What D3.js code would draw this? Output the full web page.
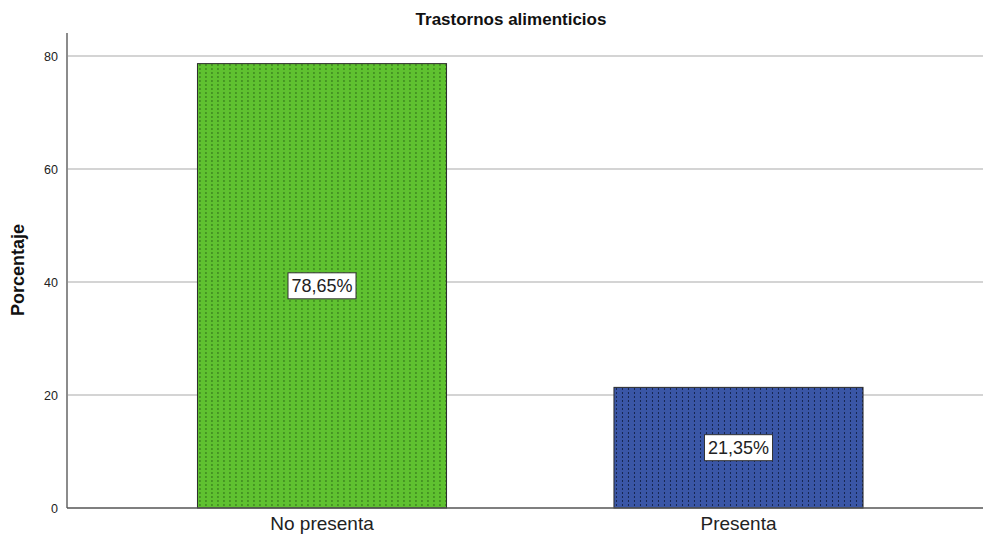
<!DOCTYPE html>
<html><head><meta charset="utf-8">
<script src="https://cdn.jsdelivr.net/npm/d3@7"></script>
<style>body{margin:0;background:#fff}svg{display:block;font-family:"Liberation Sans",Arial,sans-serif}</style>
</head><body><svg id="c" width="983" height="537"></svg>
<script>
const categories = ["No presenta", "Presenta"];
const values = [78.65, 21.35];
const labels = ["78,65%", "21,35%"];
const colors = ["#5fc130", "#3a56a6"];
const dotColors = ["#2f6d18", "#16254f"];
const yTicks = [0, 20, 40, 60, 80];

const svg = d3.select("#c");
const axisLeft = 67, axisRight = 983;
const y = d3.scaleLinear().domain([0, 80]).range([508, 56]);
const x = d3.scaleBand().domain(categories).range([113.75, 946.75]).paddingInner(0.402).paddingOuter(0.201);

const defs = svg.append("defs");
categories.forEach((c, i) => {
  const p = defs.append("pattern").attr("id", "pat" + i).attr("patternUnits", "userSpaceOnUse")
    .attr("width", 6).attr("height", 4).attr("x", x(c) + 2).attr("y", 0);
  p.append("rect").attr("width", 6).attr("height", 4).attr("fill", colors[i]);
  p.append("rect").attr("x", 0).attr("y", 0).attr("width", 1).attr("height", 2).attr("fill", dotColors[i]);
});

// gridlines
svg.append("g").selectAll("line").data(yTicks.filter(d => d > 0)).join("line")
  .attr("x1", axisLeft).attr("x2", axisRight).attr("y1", d => y(d)).attr("y2", d => y(d))
  .attr("stroke", "#d4d4d4").attr("stroke-width", 2);

// bars
svg.append("g").selectAll("rect").data(categories).join("rect")
  .attr("x", d => x(d)).attr("width", x.bandwidth())
  .attr("y", (d, i) => y(values[i])).attr("height", (d, i) => y(0) - y(values[i]))
  .attr("fill", (d, i) => `url(#pat${i})`).attr("stroke", "#2b2b2b").attr("stroke-width", 1);

// axes
const ya = svg.append("g").attr("transform", `translate(${axisLeft},0)`)
  .call(d3.axisLeft(y).tickValues(yTicks).tickSize(0).tickPadding(9));
ya.select(".domain").remove();
ya.selectAll(".tick text").attr("font-size", 12.5).attr("fill", "#222").attr("font-family", "Liberation Sans, Arial, sans-serif");
svg.append("line").attr("x1", axisLeft).attr("x2", axisLeft).attr("y1", 33).attr("y2", 508)
  .attr("stroke", "#8c8c8c").attr("stroke-width", 2);
svg.append("line").attr("x1", axisLeft).attr("x2", axisRight).attr("y1", 508).attr("y2", 508)
  .attr("stroke", "#555").attr("stroke-width", 1.5);

const xa = svg.append("g").attr("transform", `translate(0,508)`)
  .call(d3.axisBottom(x).tickSize(0).tickPadding(9));
xa.select(".domain").remove();
xa.selectAll(".tick text").attr("font-size", 19).attr("fill", "#222").attr("font-family", "Liberation Sans, Arial, sans-serif");

// value labels
const lab = svg.append("g").selectAll("g").data(categories).join("g")
  .attr("transform", (d, i) => `translate(${x(d) + x.bandwidth() / 2},${(y(values[i]) + y(0)) / 2})`);
lab.append("rect").attr("x", -34).attr("y", -13).attr("width", 68).attr("height", 26)
  .attr("fill", "#fff").attr("stroke", "#333").attr("stroke-width", 1);
lab.append("text").attr("text-anchor", "middle").attr("dy", "0.36em").attr("font-size", 18)
  .attr("fill", "#222").text((d, i) => labels[i]);

// title
svg.append("text").attr("x", 511).attr("y", 25).attr("text-anchor", "middle")
  .attr("font-size", 17).attr("font-weight", "bold").attr("fill", "#111").text("Trastornos alimenticios");
// y label
svg.append("text").attr("transform", "translate(24,270) rotate(-90)").attr("text-anchor", "middle")
  .attr("font-size", 18).attr("font-weight", "bold").attr("fill", "#111").text("Porcentaje");
</script></body></html>
